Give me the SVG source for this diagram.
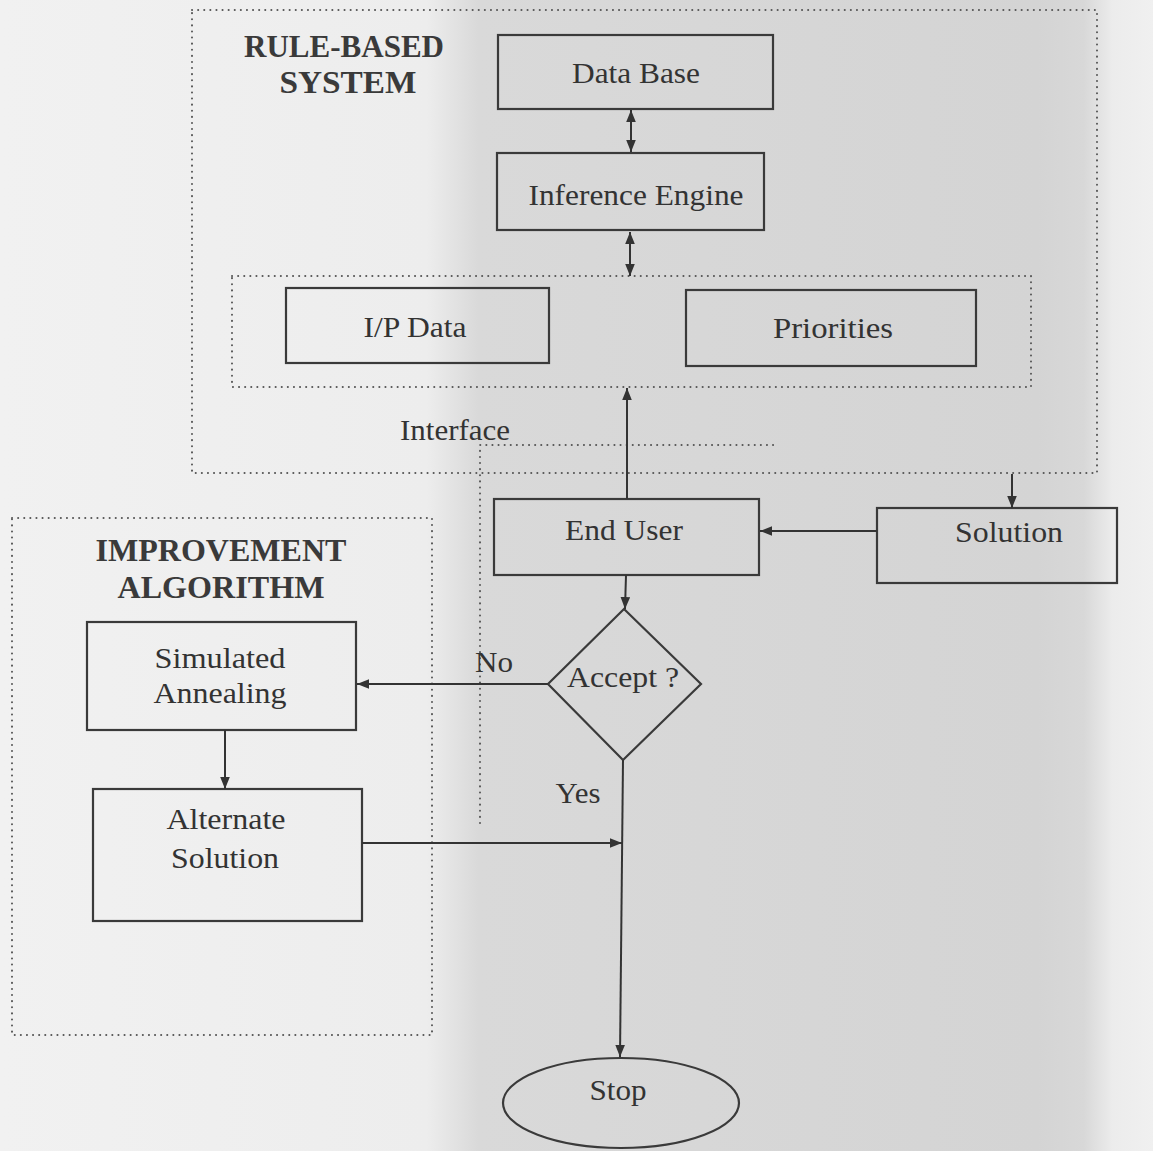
<svg xmlns="http://www.w3.org/2000/svg" width="1153" height="1151" viewBox="0 0 1153 1151">
<defs>
<linearGradient id="bg" x1="0" y1="0" x2="1153" y2="0" gradientUnits="userSpaceOnUse">
<stop offset="0" stop-color="#f1f1f1"/>
<stop offset="0.37" stop-color="#ededed"/>
<stop offset="0.415" stop-color="#d9d9d9"/>
<stop offset="0.9" stop-color="#d4d4d4"/>
<stop offset="0.94" stop-color="#d8d8d8"/>
<stop offset="0.965" stop-color="#ececec"/>
<stop offset="1" stop-color="#f0f0f0"/>
</linearGradient>
<marker id="arr" viewBox="0 0 10 8" refX="10" refY="4" markerWidth="12" markerHeight="10" markerUnits="userSpaceOnUse" orient="auto-start-reverse">
<path d="M0,0 L10,4 L0,8 z" fill="#333"/>
</marker>
</defs>
<style>
.box{fill:none;stroke:#3a3a3a;stroke-width:2.2}
.dot{fill:none;stroke:#555;stroke-width:2;stroke-dasharray:0.1 6;stroke-linecap:round}
.ln{fill:none;stroke:#333;stroke-width:2}
.t{font-family:"Liberation Serif","Times New Roman",serif;font-size:30px;fill:#333;text-anchor:middle}
.h{font-family:"Liberation Serif","Times New Roman",serif;font-size:31px;font-weight:bold;fill:#3a3a3a;text-anchor:middle}
</style>
<rect x="0" y="0" width="1153" height="1151" fill="url(#bg)"/>

<g id="rule-based-system">
<rect class="dot" x="192" y="10" width="905" height="463"/>
<text class="h" x="344" y="57" textLength="200" lengthAdjust="spacingAndGlyphs">RULE-BASED</text>
<text class="h" x="348" y="93" textLength="137" lengthAdjust="spacingAndGlyphs">SYSTEM</text>
</g>

<g id="interface-group">
<rect class="dot" x="232" y="276" width="799" height="111"/>
</g>

<g id="interface">
<path class="dot" d="M480,823 L480,445 L777,445"/>
<text class="t" x="455" y="440" textLength="110" lengthAdjust="spacingAndGlyphs">Interface</text>
</g>

<g id="improvement-algorithm">
<rect class="dot" x="12" y="518" width="420" height="517"/>
<text class="h" x="221" y="561" textLength="251" lengthAdjust="spacingAndGlyphs">IMPROVEMENT</text>
<text class="h" x="221" y="598" textLength="207" lengthAdjust="spacingAndGlyphs">ALGORITHM</text>
</g>

<g id="data-base">
<rect class="box" x="498" y="35" width="275" height="74"/>
<text class="t" x="636" y="83" textLength="128" lengthAdjust="spacingAndGlyphs">Data Base</text>
</g>

<g id="inference-engine">
<rect class="box" x="497" y="153" width="267" height="77"/>
<text class="t" x="636" y="205" textLength="215" lengthAdjust="spacingAndGlyphs">Inference Engine</text>
</g>

<g id="ip-data">
<rect class="box" x="286" y="288" width="263" height="75"/>
<text class="t" x="415" y="337" textLength="103" lengthAdjust="spacingAndGlyphs">I/P Data</text>
</g>

<g id="priorities">
<rect class="box" x="686" y="290" width="290" height="76"/>
<text class="t" x="833" y="338" textLength="120" lengthAdjust="spacingAndGlyphs">Priorities</text>
</g>

<g id="end-user">
<rect class="box" x="494" y="499" width="265" height="76"/>
<text class="t" x="624" y="540" textLength="118" lengthAdjust="spacingAndGlyphs">End User</text>
</g>

<g id="solution">
<rect class="box" x="877" y="508" width="240" height="75"/>
<text class="t" x="1009" y="542" textLength="108" lengthAdjust="spacingAndGlyphs">Solution</text>
</g>

<g id="accept">
<polygon class="box" points="624,609 701,684 623,760 548,684"/>
<text class="t" x="623" y="687" textLength="112" lengthAdjust="spacingAndGlyphs">Accept ?</text>
</g>

<g id="simulated-annealing">
<rect class="box" x="87" y="622" width="269" height="108"/>
<text class="t" x="220" y="668" textLength="131" lengthAdjust="spacingAndGlyphs">Simulated</text>
<text class="t" x="220" y="703" textLength="133" lengthAdjust="spacingAndGlyphs">Annealing</text>
</g>

<g id="alternate-solution">
<rect class="box" x="93" y="789" width="269" height="132"/>
<text class="t" x="226" y="829" textLength="119" lengthAdjust="spacingAndGlyphs">Alternate</text>
<text class="t" x="225" y="868" textLength="108" lengthAdjust="spacingAndGlyphs">Solution</text>
</g>

<g id="stop">
<ellipse class="box" cx="621" cy="1103" rx="118" ry="45"/>
<text class="t" x="618" y="1100" textLength="57" lengthAdjust="spacingAndGlyphs">Stop</text>
</g>

<g id="connectors">
<line class="ln" x1="631" y1="110" x2="631" y2="152" marker-start="url(#arr)" marker-end="url(#arr)"/>
<line class="ln" x1="630" y1="232" x2="630" y2="276" marker-start="url(#arr)" marker-end="url(#arr)"/>
<line class="ln" x1="627" y1="499" x2="627" y2="388" marker-end="url(#arr)"/>
<line class="ln" x1="1012" y1="474" x2="1012" y2="508" marker-end="url(#arr)"/>
<line class="ln" x1="877" y1="531" x2="760" y2="531" marker-end="url(#arr)"/>
<line class="ln" x1="626" y1="575" x2="625" y2="609" marker-end="url(#arr)"/>
<line class="ln" x1="548" y1="684" x2="357" y2="684" marker-end="url(#arr)"/>
<line class="ln" x1="225" y1="730" x2="225" y2="789" marker-end="url(#arr)"/>
<line class="ln" x1="362" y1="843" x2="622" y2="843" marker-end="url(#arr)"/>
<line class="ln" x1="623" y1="760" x2="620" y2="1057" marker-end="url(#arr)"/>
<text class="t" x="494" y="672" textLength="38" lengthAdjust="spacingAndGlyphs">No</text>
<text class="t" x="578" y="803" textLength="45" lengthAdjust="spacingAndGlyphs">Yes</text>
</g>
</svg>
